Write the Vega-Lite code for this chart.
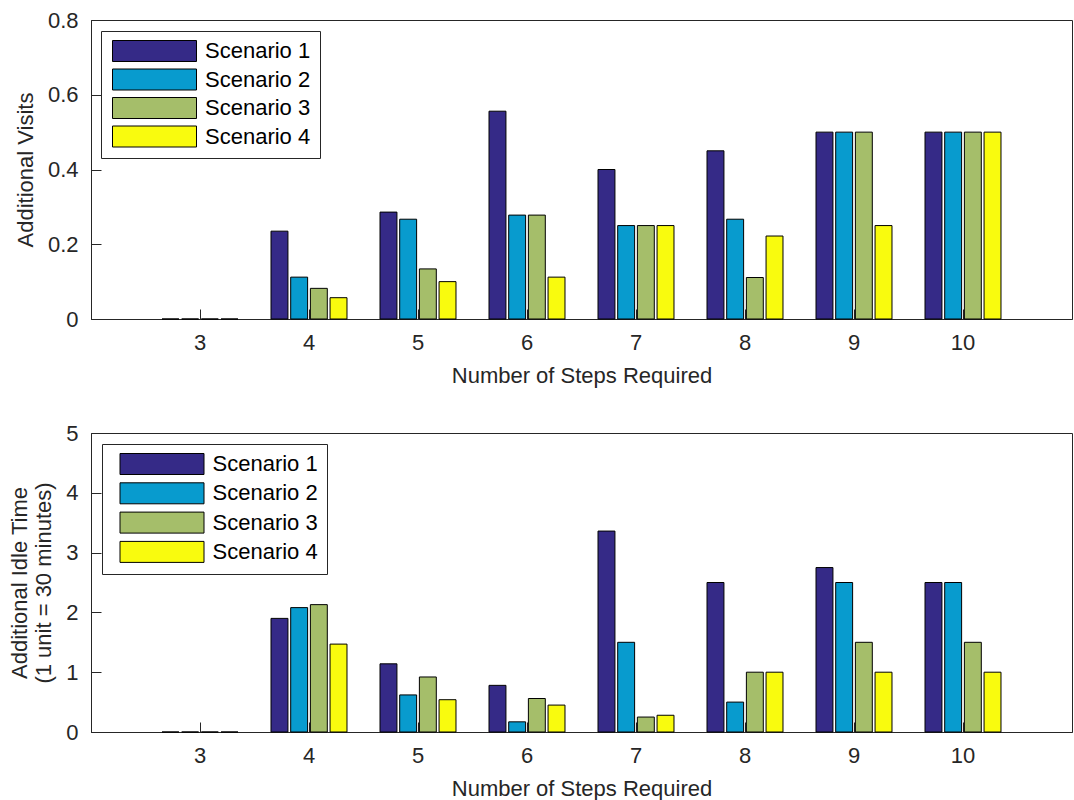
{
  "$schema": "https://vega.github.io/schema/vega-lite/v6.json",
  "padding": {"left": 8, "top": 8, "right": 0, "bottom": 0},
  "background": "white",
  "data": {"values": [
    {"steps": 3, "scenario": "Scenario 1", "visits": 0, "idle": 0},
    {"steps": 3, "scenario": "Scenario 2", "visits": 0, "idle": 0},
    {"steps": 3, "scenario": "Scenario 3", "visits": 0, "idle": 0},
    {"steps": 3, "scenario": "Scenario 4", "visits": 0, "idle": 0},
    {"steps": 4, "scenario": "Scenario 1", "visits": 0.235, "idle": 1.9},
    {"steps": 4, "scenario": "Scenario 2", "visits": 0.112, "idle": 2.08},
    {"steps": 4, "scenario": "Scenario 3", "visits": 0.082, "idle": 2.13},
    {"steps": 4, "scenario": "Scenario 4", "visits": 0.057, "idle": 1.47},
    {"steps": 5, "scenario": "Scenario 1", "visits": 0.286, "idle": 1.14},
    {"steps": 5, "scenario": "Scenario 2", "visits": 0.267, "idle": 0.62},
    {"steps": 5, "scenario": "Scenario 3", "visits": 0.134, "idle": 0.92},
    {"steps": 5, "scenario": "Scenario 4", "visits": 0.1, "idle": 0.54},
    {"steps": 6, "scenario": "Scenario 1", "visits": 0.556, "idle": 0.78},
    {"steps": 6, "scenario": "Scenario 2", "visits": 0.278, "idle": 0.17},
    {"steps": 6, "scenario": "Scenario 3", "visits": 0.278, "idle": 0.56},
    {"steps": 6, "scenario": "Scenario 4", "visits": 0.112, "idle": 0.45},
    {"steps": 7, "scenario": "Scenario 1", "visits": 0.4, "idle": 3.36},
    {"steps": 7, "scenario": "Scenario 2", "visits": 0.25, "idle": 1.5},
    {"steps": 7, "scenario": "Scenario 3", "visits": 0.25, "idle": 0.25},
    {"steps": 7, "scenario": "Scenario 4", "visits": 0.25, "idle": 0.28},
    {"steps": 8, "scenario": "Scenario 1", "visits": 0.45, "idle": 2.5},
    {"steps": 8, "scenario": "Scenario 2", "visits": 0.267, "idle": 0.5},
    {"steps": 8, "scenario": "Scenario 3", "visits": 0.111, "idle": 1.0},
    {"steps": 8, "scenario": "Scenario 4", "visits": 0.222, "idle": 1.0},
    {"steps": 9, "scenario": "Scenario 1", "visits": 0.5, "idle": 2.75},
    {"steps": 9, "scenario": "Scenario 2", "visits": 0.5, "idle": 2.5},
    {"steps": 9, "scenario": "Scenario 3", "visits": 0.5, "idle": 1.5},
    {"steps": 9, "scenario": "Scenario 4", "visits": 0.25, "idle": 1.0},
    {"steps": 10, "scenario": "Scenario 1", "visits": 0.5, "idle": 2.5},
    {"steps": 10, "scenario": "Scenario 2", "visits": 0.5, "idle": 2.5},
    {"steps": 10, "scenario": "Scenario 3", "visits": 0.5, "idle": 1.5},
    {"steps": 10, "scenario": "Scenario 4", "visits": 0.5, "idle": 1.0}
  ]},
  "config": {
    "font": "Liberation Sans",
    "view": {"stroke": "#262626", "strokeWidth": 1},
    "axis": {
      "labelFontSize": 22, "titleFontSize": 22, "titleFontWeight": "normal",
      "labelColor": "#262626", "titleColor": "#262626",
      "domainColor": "#262626", "tickColor": "#262626", "domainWidth": 1, "tickWidth": 1,
      "tickSize": -10, "labelPadding": 23, "grid": false
    },
    "axisX": {"labelAngle": 0},
    "legend": {
      "labelFontSize": 22, "labelColor": "#000", "labelFont": "Liberation Sans"
    }
  },
  "spacing": 34,
  "vconcat": [
    {
      "width": 981, "height": 299,
      "mark": {"type": "bar", "stroke": "#000", "strokeWidth": 1},
      "encoding": {
        "x": {"field": "steps", "type": "ordinal",
              "scale": {"paddingInner": 0.303, "paddingOuter": 0.6515},
              "axis": {"title": "Number of Steps Required", "titlePadding": 12}},
        "xOffset": {"field": "scenario", "type": "nominal", "scale": {"paddingInner": 0.14, "paddingOuter": 0}},
        "y": {"field": "visits", "type": "quantitative",
              "scale": {"domain": [0, 0.8], "nice": false},
              "axis": {"title": "Additional Visits", "values": [0, 0.2, 0.4, 0.6, 0.8], "format": "~g", "titlePadding": 10}},
        "color": {"field": "scenario", "type": "nominal",
                  "scale": {"domain": ["Scenario 1", "Scenario 2", "Scenario 3", "Scenario 4"],
                            "range": ["#352A87", "#089BCE", "#A5BE6A", "#F9FB0E"]},
                  "legend": {"title": null, "orient": "none", "legendX": 10, "legendY": 11,
                             "padding": 9, "strokeColor": "#262626", "fillColor": "white",
                             "symbolType": "M-4,-1H4V1H-4Z", "symbolSize": 441,
                             "symbolStrokeColor": "#000", "symbolStrokeWidth": 1, "symbolOpacity": 1,
                             "symbolOffset": 33.5, "labelOffset": 39.5, "rowPadding": 2.5,
                             "encode": {"symbols": {"update": {"stroke": {"value": "#000"}, "strokeWidth": {"value": 1}}}}}}
      }
    },
    {
      "width": 981, "height": 299,
      "mark": {"type": "bar", "stroke": "#000", "strokeWidth": 1},
      "encoding": {
        "x": {"field": "steps", "type": "ordinal",
              "scale": {"paddingInner": 0.303, "paddingOuter": 0.6515},
              "axis": {"title": "Number of Steps Required", "titlePadding": 12}},
        "xOffset": {"field": "scenario", "type": "nominal", "scale": {"paddingInner": 0.14, "paddingOuter": 0}},
        "y": {"field": "idle", "type": "quantitative",
              "scale": {"domain": [0, 5], "nice": false},
              "axis": {"title": ["Additional Idle Time", "(1 unit = 30 minutes)"], "values": [0, 1, 2, 3, 4, 5], "format": "~g", "titlePadding": 10}},
        "color": {"field": "scenario", "type": "nominal",
                  "scale": {"domain": ["Scenario 1", "Scenario 2", "Scenario 3", "Scenario 4"],
                            "range": ["#352A87", "#089BCE", "#A5BE6A", "#F9FB0E"]},
                  "legend": {"title": null, "orient": "none", "legendX": 11, "legendY": 11,
                             "padding": 9, "strokeColor": "#262626", "fillColor": "white",
                             "symbolType": "M-4,-1H4V1H-4Z", "symbolSize": 441,
                             "symbolStrokeColor": "#000", "symbolStrokeWidth": 1, "symbolOpacity": 1,
                             "symbolOffset": 40, "labelOffset": 39.5, "rowPadding": 3.3,
                             "encode": {"symbols": {"update": {"stroke": {"value": "#000"}, "strokeWidth": {"value": 1}}}}}}
      }
    }
  ],
  "resolve": {"scale": {"color": "independent"}, "legend": {"color": "independent"}}
}
